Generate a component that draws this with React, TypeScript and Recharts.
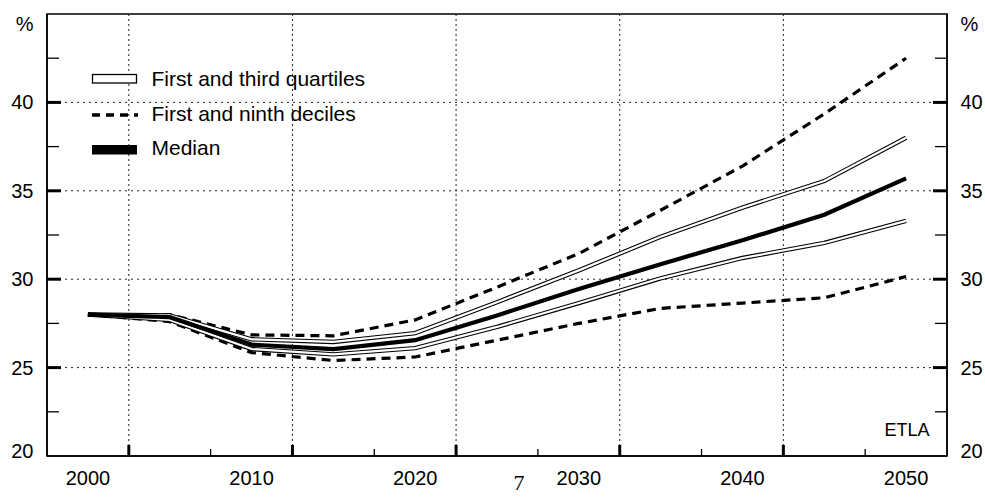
import React from 'react';
import { LineChart, Line, XAxis, YAxis, ReferenceLine, ReferenceArea, Legend } from 'recharts';

// Projection path, % values at five-year steps
const years = [2000, 2005, 2010, 2015, 2020, 2025, 2030, 2035, 2040, 2045, 2050];
const ninthDecile = [28.0, 28.0, 26.85, 26.8, 27.7, 29.55, 31.45, 33.9, 36.4, 39.35, 42.5];
const thirdQuartile = [28.0, 27.95, 26.6, 26.45, 26.95, 28.7, 30.5, 32.4, 34.05, 35.55, 38.0];
const median = [28.0, 27.85, 26.3, 26.05, 26.55, 27.95, 29.45, 30.85, 32.2, 33.65, 35.7];
const firstQuartile = [28.0, 27.7, 26.05, 25.75, 26.1, 27.3, 28.65, 30.05, 31.2, 32.05, 33.3];
const firstDecile = [28.0, 27.6, 25.85, 25.4, 25.6, 26.55, 27.5, 28.35, 28.65, 28.95, 30.15];

const yearLabels = [2000, 2010, 2020, 2030, 2040, 2050];
const yearMajorTicks = [2002.5, 2012.5, 2022.5, 2032.5, 2042.5];
const yearMinorTicks = [2007.5, 2017.5, 2027.5, 2037.5, 2047.5];
const valueLabels = [20, 25, 30, 35, 40];
const valueMajorTicks = [25, 30, 35, 40];
const valueMinorTicks = [22.5, 27.5, 32.5, 37.5, 42.5];
const unitTick = 45;

const legendLabels = ['First and third quartiles', 'First and ninth deciles', 'Median'];
const sourceLabel = 'ETLA';
const pageNumber = '7';

const data = years.map((year, i) => ({
  year,
  d9: ninthDecile[i],
  q3: thirdQuartile[i],
  med: median[i],
  q1: firstQuartile[i],
  d1: firstDecile[i],
}));

const FONT = '"Liberation Sans", Arial, Helvetica, sans-serif';

const ValueTick = (props: any) => {
  const { x, y, payload, side } = props;
  const v = payload.value;
  const dir = side === 'left' ? 1 : -1;
  const major = valueMajorTicks.includes(v);
  const minor = valueMinorTicks.includes(v);
  const label = v === unitTick ? '%' : valueLabels.includes(v) ? String(v) : null;
  // keep the end labels inside the frame's height
  const ly = v === unitTick ? y + 10 : v === 20 ? y - 5 : y;
  return (
    <g>
      {(major || minor) && (
        <line
          x1={x}
          x2={x + dir * (major ? 14 : 12)}
          y1={y}
          y2={y}
          stroke="#000"
          strokeWidth={major ? 3 : 1.3}
        />
      )}
      {label && (
        <text
          x={side === 'left' ? x - 13.5 : x + 13.5}
          y={ly}
          dy={7}
          textAnchor={side === 'left' ? 'end' : 'start'}
          fontFamily={FONT}
          fontSize={20}
          fill="#000"
        >
          {label}
        </text>
      )}
    </g>
  );
};

const YearTick = (props: any) => {
  const { x, y, payload } = props;
  const v = payload.value;
  if (yearLabels.includes(v)) {
    return (
      <text x={x} y={y + 29} textAnchor="middle" fontFamily={FONT} fontSize={20} fill="#000">
        {v}
      </text>
    );
  }
  const major = yearMajorTicks.includes(v);
  return (
    <line x1={x} x2={x} y1={y} y2={y - (major ? 11 : 7)} stroke="#000" strokeWidth={major ? 3 : 1.3} />
  );
};

const LegendBox = () => (
  <svg width={400} height={170} style={{ display: 'block' }}>
    <rect x={92.5} y={74.5} width={44} height={8.5} fill="#fff" stroke="#000" strokeWidth={1.3} />
    <line x1={92} x2={138} y1={115} y2={115} stroke="#000" strokeWidth={3.3} strokeDasharray="8 6" />
    <rect x={92} y={145} width={45} height={9.5} fill="#000" />
    {legendLabels.map((label, i) => (
      <text key={label} x={151.5} y={86 + i * 34.5} fontFamily={FONT} fontSize={21} fill="#000">
        {label}
      </text>
    ))}
  </svg>
);

export default function App() {
  const yTicks = [20, ...valueMinorTicks, ...valueMajorTicks, unitTick].sort((a, b) => a - b);
  const xTicks = [...yearLabels, ...yearMajorTicks, ...yearMinorTicks].sort((a, b) => a - b);

  return (
    <div style={{ position: 'absolute', left: 0, top: 0, width: 985, height: 497, background: '#fff' }}>
      <LineChart width={985} height={497} data={data} margin={{ top: 14, right: 0, bottom: 0, left: 0 }}>
        <XAxis
          dataKey="year"
          type="number"
          domain={[1997.5, 2052.5]}
          allowDataOverflow
          ticks={xTicks}
          interval={0}
          tick={<YearTick />}
          tickLine={false}
          tickSize={0}
          tickMargin={0}
          height={41}
          axisLine={{ stroke: '#000', strokeWidth: 1.5 }}
        />
        <YAxis
          yAxisId="left"
          domain={[20, 45]}
          allowDataOverflow
          ticks={yTicks}
          interval={0}
          tick={(p: any) => <ValueTick {...p} side="left" />}
          tickLine={false}
          tickSize={0}
          tickMargin={0}
          width={47}
          axisLine={{ stroke: '#000', strokeWidth: 1.5 }}
        />
        <YAxis
          yAxisId="right"
          orientation="right"
          domain={[20, 45]}
          allowDataOverflow
          ticks={yTicks}
          interval={0}
          tick={(p: any) => <ValueTick {...p} side="right" />}
          tickLine={false}
          tickSize={0}
          tickMargin={0}
          width={38}
          axisLine={{ stroke: '#000', strokeWidth: 1.5 }}
        />

        {valueMajorTicks.map((v) => (
          <ReferenceLine key={`h${v}`} yAxisId="left" y={v} stroke="#222" strokeWidth={1} strokeDasharray="2 4" />
        ))}
        {yearMajorTicks.map((yr) => (
          <ReferenceLine key={`v${yr}`} yAxisId="left" x={yr} stroke="#222" strokeWidth={1} strokeDasharray="2 3" />
        ))}
        <ReferenceArea
          yAxisId="left"
          x1={1997.5}
          x2={2052.5}
          y1={20}
          y2={45}
          fill="none"
          fillOpacity={0}
          stroke="#000"
          strokeWidth={1.5}
        />

        <Line yAxisId="left" dataKey="d9" stroke="#000" strokeWidth={3.2} strokeDasharray="9 6" dot={false} activeDot={false} legendType="none" isAnimationActive={false} />
        <Line yAxisId="left" dataKey="d1" stroke="#000" strokeWidth={3.2} strokeDasharray="9 6" dot={false} activeDot={false} legendType="none" isAnimationActive={false} />
        <Line yAxisId="left" dataKey="q3" stroke="#000" strokeWidth={4.4} dot={false} activeDot={false} legendType="none" isAnimationActive={false} />
        <Line yAxisId="left" dataKey="q3" stroke="#fff" strokeWidth={2.2} dot={false} activeDot={false} legendType="none" isAnimationActive={false} />
        <Line yAxisId="left" dataKey="q1" stroke="#000" strokeWidth={4.4} dot={false} activeDot={false} legendType="none" isAnimationActive={false} />
        <Line yAxisId="left" dataKey="q1" stroke="#fff" strokeWidth={2.2} dot={false} activeDot={false} legendType="none" isAnimationActive={false} />
        <Line yAxisId="left" dataKey="med" stroke="#000" strokeWidth={4.2} dot={false} activeDot={false} legendType="none" isAnimationActive={false} />

        <Legend
          layout="horizontal"
          verticalAlign="middle"
          align="center"
          wrapperStyle={{ left: 0, top: 0, width: 400, height: 170 }}
          content={() => <LegendBox />}
        />
      </LineChart>

      <svg width={985} height={497} style={{ position: 'absolute', left: 0, top: 0, pointerEvents: 'none' }}>
        <text x={929.5} y={436} textAnchor="end" fontFamily={FONT} fontSize={18} fill="#000">
          {sourceLabel}
        </text>
        <text x={519} y={490} textAnchor="middle" fontFamily='"Liberation Serif", "Times New Roman", serif' fontSize={22} fill="#000">
          {pageNumber}
        </text>
      </svg>
    </div>
  );
}
